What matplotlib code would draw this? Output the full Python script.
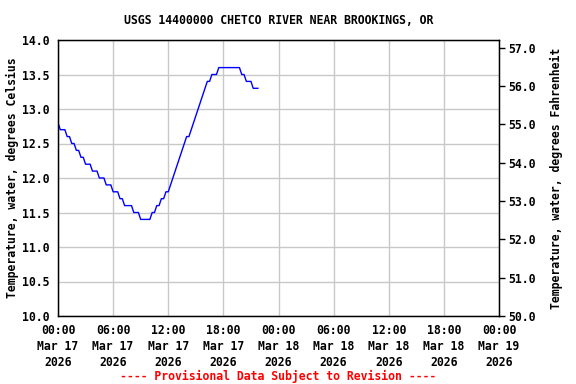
import matplotlib
matplotlib.use("Agg")
import matplotlib.pyplot as plt
import matplotlib.dates as mdates
import numpy as np
import pandas as pd

# 15-minute water temperature readings (deg C), starting 2026-03-17 00:00
temps = [12.8, 12.7, 12.7, 12.7, 12.6, 12.6, 12.5, 12.5, 12.4, 12.4,
         12.3, 12.3, 12.2, 12.2, 12.2, 12.1, 12.1, 12.1, 12.0, 12.0,
         12.0, 11.9, 11.9, 11.9, 11.8, 11.8, 11.8, 11.7, 11.7, 11.6,
         11.6, 11.6, 11.6, 11.5, 11.5, 11.5, 11.4, 11.4, 11.4, 11.4,
         11.4, 11.5, 11.5, 11.6, 11.6, 11.7, 11.7, 11.8, 11.8, 11.9,
         12.0, 12.1, 12.2, 12.3, 12.4, 12.5, 12.6, 12.6, 12.7, 12.8,
         12.9, 13.0, 13.1, 13.2, 13.3, 13.4, 13.4, 13.5, 13.5, 13.5,
         13.6, 13.6, 13.6, 13.6, 13.6, 13.6, 13.6, 13.6, 13.6, 13.6,
         13.5, 13.5, 13.4, 13.4, 13.4, 13.3, 13.3, 13.3]
times = pd.date_range("2026-03-17 00:00", periods=len(temps), freq="15min")

xticks = pd.date_range("2026-03-17 00:00", "2026-03-19 00:00", freq="6h")
xlabels = [t.strftime("%H:%M\n%b %d\n%Y") for t in xticks]
yticks_c = [10.0, 10.5, 11.0, 11.5, 12.0, 12.5, 13.0, 13.5, 14.0]
yticks_f = [50.0, 51.0, 52.0, 53.0, 54.0, 55.0, 56.0, 57.0]

font = dict(family="DejaVu Sans Mono", weight="bold", size=8.3)

fig = plt.figure(figsize=(5.76, 3.84), dpi=100)
ax = fig.add_axes([58 / 576, 1 - 316 / 384, 441 / 576, 276 / 384])

ax.plot(times, temps, color="#0000ff", linewidth=1)

ax.set_xlim(xticks[0], xticks[-1])
ax.set_ylim(10.0, 14.0)
ax.set_xticks(xticks)
ax.set_xticklabels(xlabels, linespacing=1.3, **font)
ax.set_yticks(yticks_c)
ax.set_yticklabels([f"{v:.1f}" for v in yticks_c], **font)
ax.tick_params(axis="y", length=0, pad=6)
ax.tick_params(axis="x", length=0, pad=6)
ax.grid(True, color="#c8c8c8", linewidth=1)
ax.set_axisbelow(True)
for s in ax.spines.values():
    s.set_color("black")
    s.set_linewidth(1)
ax.set_ylabel("Temperature, water, degrees Celsius", labelpad=2, **font)

ax2 = ax.twinx()
ax2.set_ylim(10.0 * 1.8 + 32, 14.0 * 1.8 + 32)
ax2.set_yticks(yticks_f)
ax2.set_yticklabels([f"{v:.1f}" for v in yticks_f], **font)
ax2.tick_params(axis="y", length=4, width=1, direction="out", pad=3)
ax2.set_ylabel("Temperature, water, degrees Fahrenheit", labelpad=10, **font)

fig.text(278.5 / 576, 1 - 20 / 384, "USGS 14400000 CHETCO RIVER NEAR BROOKINGS, OR",
         ha="center", va="center", **font)
fig.text(278.5 / 576, 1 - 376 / 384, "---- Provisional Data Subject to Revision ----",
         ha="center", va="center", color="red", **font)

fig.savefig("out.png", dpi=100)
